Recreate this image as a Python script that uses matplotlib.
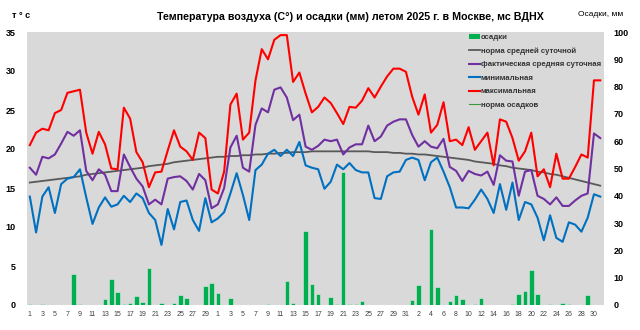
import numpy as np
import pandas as pd
import matplotlib
matplotlib.use("Agg")
import matplotlib.pyplot as plt
from matplotlib.lines import Line2D
from matplotlib.patches import Patch

plt.rcParams['font.family'] = ['Liberation Sans', 'DejaVu Sans']

# ── Data: summer 2025, Moscow VDNKh ──────────────────────────────────────────
dates = pd.date_range("2025-06-01", "2025-08-31", freq="D")

t_max = [
    # June
    20.5, 22.1, 22.6, 22.4, 24.6, 25.0, 27.2, 27.4, 27.6, 22.1,
    19.4, 22.2, 20.6, 17.5, 17.4, 25.3, 23.9, 19.6, 18.3, 15.1,
    17.0, 17.1, 19.8, 22.4, 20.3, 19.7, 18.6, 22.1, 21.4, 14.8,
    # July
    14.3, 17.1, 25.7, 27.1, 21.2, 22.1, 28.8, 32.8, 31.5, 34.0,
    34.6, 34.6, 28.6, 29.8, 27.1, 24.7, 25.4, 26.6, 25.9, 24.6,
    23.2, 25.4, 25.3, 26.2, 27.8, 26.6, 28.0, 29.3, 30.3, 30.3, 29.9,
    # August
    26.7, 24.4, 27.0, 22.1, 23.1, 26.0, 21.0, 21.2, 20.5, 22.8,
    19.9, 21.0, 22.1, 17.9, 23.8, 23.5, 21.4, 18.5, 19.7, 22.1,
    16.5, 17.4, 15.1, 19.4, 16.2, 16.2, 17.7, 19.3, 18.9, 28.8, 28.8,
]

t_mean = [
    17.6, 16.7, 19.0, 18.8, 19.3, 20.7, 22.2, 21.7, 22.4, 17.2,
    16.0, 17.4, 16.7, 14.6, 14.6, 19.3, 17.7, 16.2, 15.2, 12.9,
    13.5, 12.9, 16.2, 16.4, 16.5, 15.9, 14.8, 16.8, 16.0, 12.4,
    12.9, 15.0, 20.2, 21.7, 17.6, 17.1, 23.1, 25.2, 24.7, 27.6,
    27.9, 26.6, 23.7, 24.4, 20.3, 19.9, 20.4, 21.2, 21.0, 21.2,
    19.3, 20.2, 20.6, 20.6, 23.0, 21.0, 21.6, 23.0, 23.5, 23.8, 23.8,
    21.8, 20.3, 21.0, 20.3, 20.1, 21.3, 17.7, 17.2, 15.9, 17.2,
    16.8, 16.6, 17.1, 15.4, 19.2, 18.5, 18.4, 14.0, 17.1, 17.3,
    14.0, 13.6, 12.9, 13.8, 12.7, 12.7, 13.4, 14.0, 14.3, 22.0, 21.4,
]

t_min = [
    13.9, 9.3, 13.9, 15.1, 11.8, 15.5, 16.2, 16.4, 17.4, 13.8,
    10.4, 12.5, 13.8, 12.6, 12.9, 14.0, 13.2, 14.3, 13.7, 11.8,
    10.9, 7.7, 12.3, 9.7, 13.2, 13.4, 10.9, 9.5, 13.7, 10.6,
    11.1, 11.9, 14.3, 16.9, 14.1, 10.9, 17.3, 18.0, 19.4, 19.9,
    19.1, 19.9, 19.1, 20.9, 17.9, 17.6, 17.4, 14.9, 15.8, 18.0,
    17.4, 18.2, 17.3, 17.0, 17.0, 13.7, 13.6, 16.5, 17.0, 17.1, 18.6,
    18.9, 18.6, 16.0, 18.3, 18.9, 17.1, 15.1, 12.5, 12.5, 12.4,
    13.5, 14.8, 13.6, 11.8, 15.5, 12.2, 15.7, 10.9, 13.2, 12.9,
    11.2, 8.3, 11.5, 8.6, 8.1, 10.6, 10.3, 9.4, 11.2, 14.2, 13.9,
]

t_norm = [
    15.7, 15.8, 15.9, 16.0, 16.1, 16.2, 16.3, 16.4, 16.5, 16.7,
    16.8, 16.9, 17.0, 17.1, 17.2, 17.3, 17.4, 17.5, 17.6, 17.8,
    17.9, 18.0, 18.1, 18.3, 18.4, 18.5, 18.6, 18.7, 18.8, 18.9,
    19.0, 19.0, 19.1, 19.1, 19.2, 19.2, 19.3, 19.3, 19.4, 19.4,
    19.5, 19.5, 19.6, 19.6, 19.6, 19.7, 19.7, 19.7, 19.7, 19.7,
    19.7, 19.7, 19.7, 19.7, 19.7, 19.6, 19.6, 19.6, 19.5, 19.5, 19.4,
    19.4, 19.3, 19.3, 19.2, 19.1, 19.0, 18.9, 18.8, 18.7, 18.6,
    18.4, 18.3, 18.2, 18.1, 17.9, 17.8, 17.6, 17.5, 17.4, 17.3,
    17.1, 17.0, 16.8, 16.7, 16.5, 16.3, 16.1, 15.9, 15.7, 15.5, 15.3,
]

precip = [
    0.2, 0, 0.5, 0, 0, 0, 0, 11.2, 0.4, 0,
    0, 0, 2.1, 9.6, 4.8, 0.5, 0.9, 3.3, 1.2, 13.7,
    0, 0.9, 0, 0.7, 3.5, 2.6, 0, 0, 7.0, 8.2,
    4.3, 0, 2.4, 0, 0, 0, 0, 0, 0.5, 0,
    0, 8.7, 0.6, 0, 27.2, 7.6, 3.9, 0, 2.9, 0.3,
    48.6, 0.3, 0.5, 1.5, 0, 0, 0, 0, 0, 0, 0,
    1.9, 7.2, 0, 28.0, 6.5, 0, 1.5, 3.5, 2.2, 0,
    0.4, 2.4, 0, 0, 0, 0, 0.2, 4.1, 5.1, 13.0,
    4.0, 0, 0.4, 0, 0.9, 0.4, 0, 0, 3.7, 0, 0,
]

title = "Температура воздуха (С°) и осадки (мм) летом 2025 г. в Москве, мс ВДНХ"

# ── Plot ─────────────────────────────────────────────────────────────────────
x = np.arange(1, len(dates) + 1)

fig = plt.figure(figsize=(6.4, 3.3), dpi=100)
ax = fig.add_axes([27 / 640, 25 / 330, 577 / 640, 273 / 330])
ax2 = ax.twinx()

# precipitation bars behind the temperature lines
ax2.patch.set_visible(True)
ax2.patch.set_facecolor("#d9d9d9")
ax.set_zorder(ax2.get_zorder() + 1)
ax.patch.set_visible(False)

ax2.bar(x, precip, width=0.72, color="#00b050", edgecolor="#e6e6e6", linewidth=0.4)
ax2.set_ylim(0, 100)
ax2.set_yticks(np.arange(0, 101, 10))

ax.plot(x, t_norm, color="#595959", lw=1.3)
ax.plot(x, t_mean, color="#7030a0", lw=1.5)
ax.plot(x, t_min, color="#0070c0", lw=1.5)
ax.plot(x, t_max, color="#ff0000", lw=1.5)

ax.set_ylim(0, 35)
ax.set_yticks(np.arange(0, 36, 5))
ax.set_xlim(0.55, 92.6)
ax.set_xticks(x[::2])
ax.set_xticklabels([str(d.day) for d in dates[::2]])

for a in (ax, ax2):
    for s in a.spines.values():
        s.set_visible(False)
ax.tick_params(axis="y", length=0, pad=8, labelsize=6.5)
ax2.tick_params(axis="y", length=0, pad=7, labelsize=6.5)
ax.tick_params(axis="x", length=0, pad=4, labelsize=5, labelcolor="#404040")
for lab in ax.get_yticklabels() + ax2.get_yticklabels():
    lab.set_fontweight("bold")

fig.text(350 / 640, 1 - 17 / 330, title, ha="center", va="center",
         fontsize=7.7, fontweight="bold")
fig.text(12 / 640, 1 - 15 / 330, "т ° с", ha="left", va="center",
         fontsize=6.5, fontweight="bold")
fig.text(601 / 640, 1 - 15 / 330, "Осадки, мм", ha="center", va="center",
         fontsize=6)

handles = [
    Patch(facecolor="#00b050", edgecolor="none", label="осадки"),
    Line2D([], [], color="#595959", lw=1.3, label="норма средней суточной"),
    Line2D([], [], color="#7030a0", lw=1.5, label="фактическая средняя суточная"),
    Line2D([], [], color="#0070c0", lw=1.5, label="минимальная"),
    Line2D([], [], color="#ff0000", lw=1.5, label="максимальная"),
    Line2D([], [], color="#3a9a3a", lw=0.8, label="норма осадков"),
]
leg = ax.legend(handles=handles, loc="upper left",
                bbox_to_anchor=(465 / 640, 1 - 30 / 330), bbox_transform=fig.transFigure,
                frameon=False, handlelength=1.4, handleheight=0.7,
                handletextpad=0.1, labelspacing=0.78, borderpad=0,
                prop={"size": 5.6, "weight": "bold"})
for t in leg.get_texts():
    t.set_color("#333333")

fig.savefig("out.png", dpi=100)
